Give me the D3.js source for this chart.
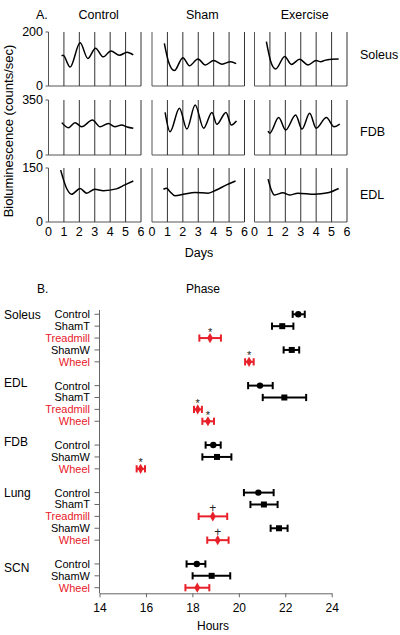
<!DOCTYPE html>
<html><head><meta charset="utf-8">
<script src="https://cdn.jsdelivr.net/npm/d3@7"></script>
<style>body{margin:0;background:#fff}svg{display:block;font-family:"Liberation Sans",Arial,sans-serif}</style>
</head><body><svg id="c" width="400" height="635"></svg>
<script>
// ---------- Panel A data ----------
const days = [0, 1, 2, 3, 4, 5, 6];
const groups = ["Control", "Sham", "Exercise"];
const tissues = ["Soleus", "FDB", "EDL"];
const yMax = [200, 350, 150];

const soleusControl = [[0.85,112],[0.95,114],[1.4,70],[2.05,160],[2.55,102],[3.05,140],[3.55,108],[4.05,130],[4.6,114],[5.1,125],[5.5,115]];
const soleusSham = [[0.8,158],[1.07,90],[1.45,57],[2.0,105],[2.43,75],[2.98,100],[3.46,78],[4.0,94],[4.55,81],[5.09,90],[5.46,83]];
const soleusExercise = [[0.77,164],[1.09,84],[1.37,63],[1.96,109],[2.39,80],[2.93,99],[3.47,78],[4.0,94],[4.3,90],[4.55,95],[4.98,99],[5.46,100]];
const fdbControl = [[0.86,206],[1.29,174],[1.72,206],[2.15,180],[2.85,223],[3.34,180],[3.88,201],[4.3,180],[4.75,191],[5.1,178],[5.5,170]];
const fdbSham = [[0.85,271],[1.17,148],[1.78,297],[2.26,165],[2.8,318],[3.35,170],[3.89,271],[4.2,195],[4.8,271],[5.15,191],[5.48,216]];
const fdbExercise = [[0.88,153],[0.98,138],[1.57,238],[2.02,159],[2.67,255],[3.08,165],[3.58,265],[4.0,170],[4.66,238],[5.16,180],[5.53,197]];
const edlControl = [[0.79,144],[1.18,93],[1.5,77],[2.05,93],[2.48,80],[3.0,91],[3.56,87],[4.4,92],[4.95,103],[5.5,114]];
const edlSham = [[0.74,91],[0.95,94],[1.17,84],[1.48,73],[2.13,78],[2.78,82],[3.64,80],[4.17,89],[4.83,103],[5.42,114]];
const edlExercise = [[0.88,119],[1.09,89],[1.3,75],[1.84,81],[2.27,75],[2.81,80],[3.89,77],[4.76,81],[5.46,93]];
const traces = [
  [soleusControl, soleusSham, soleusExercise],
  [fdbControl, fdbSham, fdbExercise],
  [edlControl, edlSham, edlExercise]
];

// ---------- Panel B data ----------
const phaseGroups = ["Soleus","EDL","FDB","Lung","SCN"];
const phaseGroup = ["Soleus","Soleus","Soleus","Soleus","Soleus","EDL","EDL","EDL","EDL","FDB","FDB","FDB","Lung","Lung","Lung","Lung","Lung","SCN","SCN","SCN"];
const phaseCond = ["Control","ShamT","Treadmill","ShamW","Wheel","Control","ShamT","Treadmill","Wheel","Control","ShamW","Wheel","Control","ShamT","Treadmill","ShamW","Wheel","Control","ShamW","Wheel"];
const phaseMean = [22.56,21.87,18.76,22.28,20.44, 20.91,21.96,18.23,18.67, 18.90,19.06,15.77, 20.84,21.08,18.88,21.73,19.09, 18.19,18.83,18.21];
const phaseLow  = [22.32,21.43,18.30,21.93,20.27, 20.40,21.03,18.07,18.43, 18.57,18.43,15.60, 20.22,20.50,18.27,21.37,18.64, 17.75,18.01,17.70];
const phaseHigh = [22.84,22.35,19.23,22.60,20.64, 21.46,22.90,18.41,18.93, 19.22,19.68,15.96, 21.50,21.67,19.50,22.10,19.56, 18.56,19.63,18.73];
const phaseSig  = ["","","*","","*", "","","*","*", "","","*", "","","+","","+", "","",""];
const hourTicks = [14,16,18,20,22,24];

const RED = "#e8202a";
const svg = d3.select("#c");

// ---------- Panel A ----------
const colX0 = [48.5, 152, 254.5];
const colW = 92.5;
const rowTop = [32, 100, 168];
const rowBot = [86, 155, 222];
const rowLabelY = [59, 136, 199];

svg.append("text").attr("x",36).attr("y",19).attr("font-size",12.5).text("A.");
groups.forEach((g,c)=>{
  svg.append("text").attr("x",colX0[c]+colW/2+4).attr("y",19).attr("font-size",12.5)
    .attr("text-anchor","middle").text(g);
});
tissues.forEach((t,r)=>{
  svg.append("text").attr("x",360).attr("y",rowLabelY[r]).attr("font-size",12.5).text(t);
});
svg.append("text").attr("transform","translate(13,131) rotate(-90)")
  .attr("text-anchor","middle").attr("font-size",13).text("Bioluminescence (counts/sec)");
svg.append("text").attr("x",199).attr("y",257).attr("font-size",12.5)
  .attr("text-anchor","middle").text("Days");

tissues.forEach((t,r)=>{
  const y = d3.scaleLinear().domain([0,yMax[r]]).range([rowBot[r],rowTop[r]]);
  groups.forEach((g,c)=>{
    const x = d3.scaleLinear().domain([0,6]).range([colX0[c],colX0[c]+colW]);
    const p = svg.append("g");
    p.append("line").attr("x1",x(0)).attr("x2",x(0)).attr("y1",y(yMax[r])).attr("y2",y(0))
      .attr("stroke","#555").attr("stroke-width",1);
    p.append("line").attr("x1",x(0)).attr("x2",x(6)).attr("y1",y(0)).attr("y2",y(0))
      .attr("stroke","#555").attr("stroke-width",1);
    p.selectAll(".dl").data(days.filter(d=>d>0)).join("line")
      .attr("x1",d=>x(d)).attr("x2",d=>x(d)).attr("y1",y(yMax[r])).attr("y2",y(0))
      .attr("stroke","#333").attr("stroke-width",1);
    const line = d3.line().x(d=>x(d[0])).y(d=>y(d[1])).curve(d3.curveMonotoneX);
    p.append("path").attr("d",line(traces[r][c])).attr("fill","none")
      .attr("stroke","#000").attr("stroke-width",1.5).attr("stroke-linejoin","round");
    if (c===0){
      [yMax[r],0].forEach(v=>{
        p.append("text").attr("x",43).attr("y",y(v)).attr("dy","0.35em")
          .attr("text-anchor","end").attr("font-size",12.5).text(v);
        p.append("line").attr("x1",x(0)-3).attr("x2",x(0)).attr("y1",y(v)).attr("y2",y(v))
          .attr("stroke","#555");
      });
    }
    if (r===2){
      p.selectAll(".tl").data(days).join("text")
        .attr("x",d=>x(d)).attr("y",236).attr("text-anchor","middle")
        .attr("font-size",12.5).text(d=>d);
    }
  });
});

// ---------- Panel B ----------
svg.append("text").attr("x",37).attr("y",293).attr("font-size",12).text("B.");
svg.append("text").attr("x",203).attr("y",293).attr("font-size",12).attr("text-anchor","middle").text("Phase");

const slots = [];
{
  let s = 0, prev = null;
  phaseGroup.forEach((g,i)=>{
    if (prev !== null && g !== prev) s += 1;
    slots.push(s); s += 1; prev = g;
  });
}
const xB = d3.scaleLinear().domain([14,24]).range([99.5,331.7]);
const yB = d3.scaleLinear().domain([-0.36, 23.47]).range([310, 593.3]);

const axB = svg.append("g").attr("transform","translate(0,593.3)")
  .call(d3.axisBottom(xB).tickValues(hourTicks).tickSize(4).tickSizeOuter(0));
axB.select(".domain").attr("stroke","#666");
axB.selectAll(".tick line").attr("stroke","#666");
axB.selectAll(".tick text").attr("font-size",12).attr("font-family","Liberation Sans, Arial, sans-serif").attr("fill","#000").attr("dy","0.95em");

svg.append("line").attr("x1",99.5).attr("x2",99.5).attr("y1",yB(-0.36)).attr("y2",yB(23.47))
  .attr("stroke","#666");
svg.append("text").attr("x",213).attr("y",630).attr("font-size",12).attr("text-anchor","middle").text("Hours");

const isRed = c => c === "Treadmill" || c === "Wheel";
phaseCond.forEach((cnd,i)=>{
  const yy = yB(slots[i]);
  const col = isRed(cnd) ? RED : "#000";
  svg.append("line").attr("x1",94.5).attr("x2",99.5).attr("y1",yy).attr("y2",yy).attr("stroke","#666");
  svg.append("text").attr("x",90).attr("y",yy).attr("dy","0.36em").attr("text-anchor","end")
    .attr("font-size",11).attr("textLength", null).attr("fill",col).text(cnd);
  const g = svg.append("g").attr("stroke",col).attr("fill",col);
  g.append("line").attr("x1",xB(phaseLow[i])).attr("x2",xB(phaseHigh[i])).attr("y1",yy).attr("y2",yy).attr("stroke-width",2);
  [phaseLow[i],phaseHigh[i]].forEach(v=>{
    g.append("line").attr("x1",xB(v)).attr("x2",xB(v)).attr("y1",yy-3.6).attr("y2",yy+3.6).attr("stroke-width",2);
  });
  let sym;
  if (cnd === "Control") sym = d3.symbol(d3.symbolCircle, 32);
  else if (cnd.startsWith("Sham")) sym = d3.symbol(d3.symbolSquare, 36);
  else sym = d3.symbol(d3.symbolDiamond, 30);
  g.append("path").attr("d",sym()).attr("transform",`translate(${xB(phaseMean[i])},${yy})`).attr("stroke","none");
  if (phaseSig[i]){
    svg.append("text").attr("x",xB(phaseMean[i])).attr("y", yy - (phaseSig[i]==="*" ? 2.5 : 4.5))
      .attr("text-anchor","middle").attr("font-size",phaseSig[i]==="*"?11:12).attr("fill","#222").text(phaseSig[i]);
  }
});
phaseGroups.forEach(gn=>{
  const i = phaseGroup.indexOf(gn);
  const yy = yB(slots[i]) + (gn==="SCN" ? 4 : (gn==="EDL"||gn==="FDB") ? -3 : 0);
  svg.append("text").attr("x",4).attr("y",yy).attr("dy","0.36em").attr("font-size",12).text(gn);
});
</script></body></html>
